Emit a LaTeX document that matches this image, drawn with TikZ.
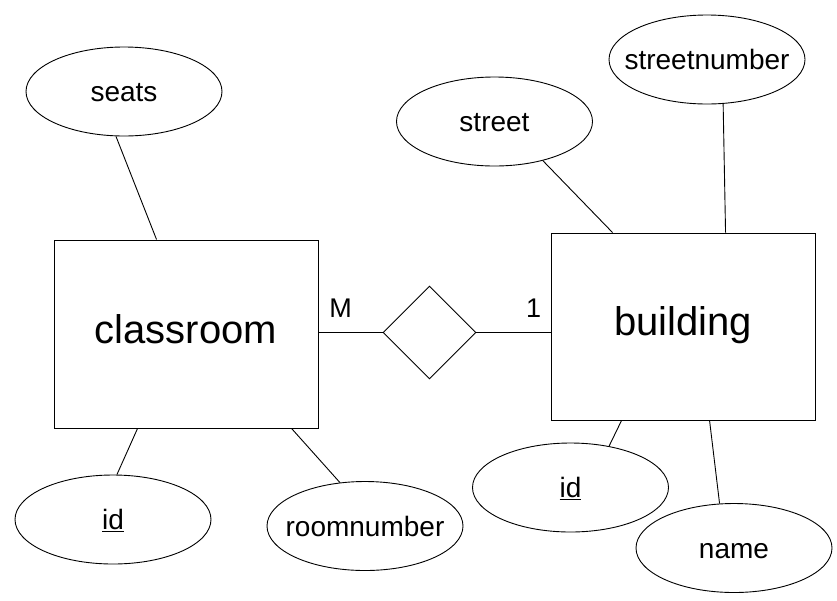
\documentclass[tikz,border=0pt]{standalone}
\usepackage{fontspec}
\setmainfont{Liberation Sans}
\usetikzlibrary{shapes.geometric,calc}
\tikzset{
  every path/.style={line width=0.9pt},
  entity/.style={draw, rectangle, inner sep=0pt, minimum width=264pt, minimum height=188pt},
  attr/.style={draw, ellipse, inner sep=0pt, minimum width=196pt, minimum height=89pt},
  attrtext/.style={inner sep=0pt, text height=20pt, text depth=0pt, font=\fontsize{28}{33}\selectfont},
  enttext/.style={inner sep=0pt, text height=18pt, text depth=0pt, font=\fontsize{40}{48}\selectfont},
  reln/.style={draw, diamond, inner sep=0pt, minimum width=93pt, minimum height=93pt},
  card/.style={inner sep=0pt, anchor=base, font=\fontsize{27}{32}\selectfont},
}
\begin{document}
\begin{tikzpicture}[x=1pt,y=-1pt]
\useasboundingbox (0,0) rectangle (837,600);
% entities
\node[entity] (classroom) at (186,334) {};
\node[enttext] (classroomt) at (classroom.center) {classroom};
\node[entity, minimum height=187pt] (building) at (683,326.5) {};
\node[enttext] (buildingt) at (building.center) {building};
% relationship
\node[reln] (rel) at (429.5,332.5) {};
% attributes
\node[attr] (seats) at (124,91.5) {};
\node[attrtext] (seatst) at (seats.center) {seats};
\node[attr] (street) at (494.5,121.5) {};
\node[attrtext] (streett) at (street.center) {street};
\node[attr] (snum) at (707,59.5) {};
\node[attrtext] (snumt) at (snum.center) {streetnumber};
\node[attr] (cid) at (113,519.5) {};
\node[attrtext] (cidt) at (cid.center) {\underline{id}};
\node[attr] (rnum) at (365,526) {};
\node[attrtext] (rnumt) at (rnum.center) {roomnumber};
\node[attr] (bid) at (570.5,487.5) {};
\node[attrtext] (bidt) at (bid.center) {\underline{id}};
\node[attr] (name) at (734,548) {};
\node[attrtext] (namet) at (name.center) {name};
% cardinalities
\node[card] (m) at (340.5,317) {M};
\node[card] (one) at (533.5,317) {1};
% connectors
\draw (classroom.east |- rel.west) -- (rel.west);
\draw (rel.east) -- (rel.east -| building.west);
\draw ($(seats.south)+(-8,0)$) -- ($(classroom.north west)+(103,0)$);
\draw (street.-39) -- ($(building.north west)+(62,0)$);
\draw (snum.-70) -- ($(building.north west)+(175,0)$);
\draw ($(classroom.south west)+(84,0)$) -- (cid.85);
\draw ($(classroom.south west)+(238,0)$) -- (rnum.120);
\draw ($(building.south west)+(71,0)$) -- (bid.47);
\draw ($(building.south west)+(159,0)$) -- (name.108);
\end{tikzpicture}
\end{document}
